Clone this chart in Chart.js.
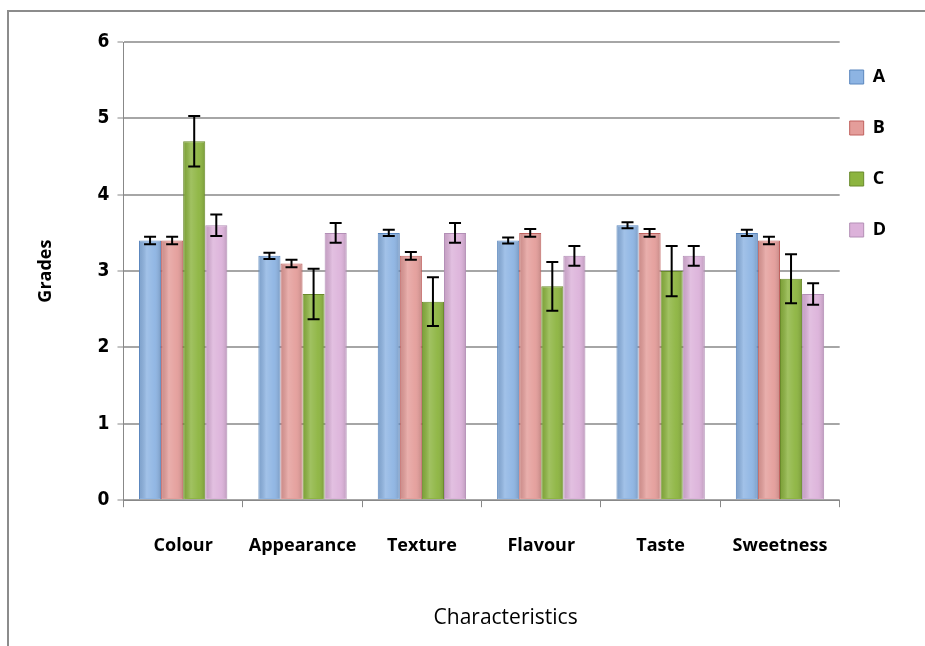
<!DOCTYPE html>
<html lang="en">
<head>
<meta charset="UTF-8">
<title>Grades by characteristic</title>
<script src="https://cdn.jsdelivr.net/npm/chart.js"></script>
<style>
  body { margin: 0; background: #fff; }
  #wrap { position: relative; width: 925px; height: 646px; }
  #frame { position: absolute; left: 7px; top: 10px; right: -4px; bottom: -4px; border: 2px solid #8c8c8c; }
  canvas { position: absolute; left: 0; top: 0; }
</style>
</head>
<body>
<div id="wrap">
  <div id="frame"></div>
  <canvas id="c" width="925" height="646"></canvas>
</div>
<script>
const categories = ['Colour', 'Appearance', 'Texture', 'Flavour', 'Taste', 'Sweetness'];
const seriesNames = ['A', 'B', 'C', 'D'];
const valuesA = [3.4, 3.2, 3.5, 3.4, 3.6, 3.5];
const valuesB = [3.4, 3.1, 3.2, 3.5, 3.5, 3.4];
const valuesC = [4.7, 2.7, 2.6, 2.8, 3.0, 2.9];
const valuesD = [3.6, 3.5, 3.5, 3.2, 3.2, 2.7];
const errA = [0.05, 0.04, 0.04, 0.04, 0.04, 0.04];
const errB = [0.05, 0.05, 0.05, 0.05, 0.05, 0.05];
const errC = [0.33, 0.33, 0.32, 0.32, 0.33, 0.32];
const errD = [0.14, 0.13, 0.13, 0.13, 0.13, 0.14];
const yTicks = [0, 1, 2, 3, 4, 5, 6];

const fills = ['#8db4e3', '#e49d9a', '#8cb43f', '#dcb2da'];
const edges = ['#5b87be', '#c0615e', '#6a8a2c', '#b38fb6'];
const allValues = [valuesA, valuesB, valuesC, valuesD];
const allErrors = [errA, errB, errC, errD];

// legend sits closer to the plot than chart.js puts it,
// and the x title is a bit right of the axis centre
const nudges = {
  id: 'nudges',
  afterLayout(chart) {
    const lg = chart.legend;
    lg.left -= 23; lg.right -= 23;
    lg.top -= 7; lg.bottom -= 7;
    const xs = chart.scales.x;
    if (!xs._origDrawTitle) {
      xs._origDrawTitle = xs.drawTitle;
      xs.drawTitle = function () {
        this.ctx.save();
        this.ctx.translate(24, 0);
        this._origDrawTitle();
        this.ctx.restore();
      };
    }
  }
};

// shading + error bars drawn from the bar elements the library placed
const barExtras = {
  id: 'barExtras',
  afterDatasetsDraw(chart) {
    const ctx = chart.ctx;
    const y = chart.scales.y;
    chart.data.datasets.forEach((ds, di) => {
      const meta = chart.getDatasetMeta(di);
      meta.data.forEach((bar, i) => {
        const p = bar.getProps(['x', 'y', 'base', 'width'], true);
        const left = p.x - p.width / 2;
        const g = ctx.createLinearGradient(left, 0, left + p.width, 0);
        g.addColorStop(0, 'rgba(0,0,0,0.10)');
        g.addColorStop(0.35, 'rgba(255,255,255,0.18)');
        g.addColorStop(0.7, 'rgba(255,255,255,0.05)');
        g.addColorStop(1, 'rgba(0,0,0,0.15)');
        ctx.save();
        ctx.fillStyle = g;
        ctx.fillRect(left + 1, p.y + 1, p.width - 2, p.base - p.y - 2);
        const v = allValues[di][i];
        const e = allErrors[di][i];
        const yt = y.getPixelForValue(v + e);
        const yb = y.getPixelForValue(v - e);
        ctx.strokeStyle = '#000';
        ctx.lineWidth = 2;
        ctx.beginPath();
        ctx.moveTo(p.x, yt); ctx.lineTo(p.x, yb);
        ctx.moveTo(p.x - 6, yt); ctx.lineTo(p.x + 6, yt);
        ctx.moveTo(p.x - 6, yb); ctx.lineTo(p.x + 6, yb);
        ctx.stroke();
        ctx.restore();
      });
    });
  }
};

new Chart(document.getElementById('c'), {
  type: 'bar',
  data: {
    labels: categories,
    datasets: seriesNames.map((name, k) => ({
      label: name,
      data: allValues[k],
      backgroundColor: fills[k],
      borderColor: edges[k],
      borderWidth: 1,
      categoryPercentage: 0.74,
      barPercentage: 1.0
    }))
  },
  options: {
    responsive: false,
    animation: false,
    layout: { padding: { left: 31, top: 42, right: 6, bottom: 11 } },
    plugins: {
      legend: {
        position: 'right',
        align: 'start',
        labels: {
          boxWidth: 14,
          boxHeight: 14,
          padding: 33,
          color: '#000',
          font: { family: 'Open Sans', size: 18, weight: 'bold' }
        }
      },
      tooltip: { enabled: false }
    },
    scales: {
      x: {
        offset: true,
        grid: { drawOnChartArea: false, drawTicks: true, tickLength: 7, color: '#888', offset: true },
        border: { display: true, color: '#888', width: 1 },
        ticks: { color: '#000', padding: 28, maxRotation: 0, minRotation: 0, autoSkip: false,
                 font: { family: 'Open Sans', size: 18, weight: 'bold' } },
        title: { display: true, text: 'Characteristics', color: '#000', padding: { top: 21 }, font: { family: 'Open Sans', size: 21 } }
      },
      y: {
        min: 0,
        max: 6,
        afterBuildTicks(axis) { axis.ticks = yTicks.map(v => ({ value: v })); },
        grid: { color: '#a6a6a6', lineWidth: 2, tickLength: 6, tickColor: '#888', tickWidth: 1 },
        border: { display: true, color: '#888', width: 1 },
        ticks: { color: '#000', padding: 8, font: { family: "'DejaVu Sans Condensed', 'Liberation Sans', sans-serif", size: 19, weight: 'bold' } },
        title: { display: true, text: 'Grades', color: '#000', padding: { bottom: 33 }, font: { family: 'Open Sans', size: 18, weight: 'bold' } }
      }
    }
  },
  plugins: [nudges, barExtras]
});
</script>
</body>
</html>
